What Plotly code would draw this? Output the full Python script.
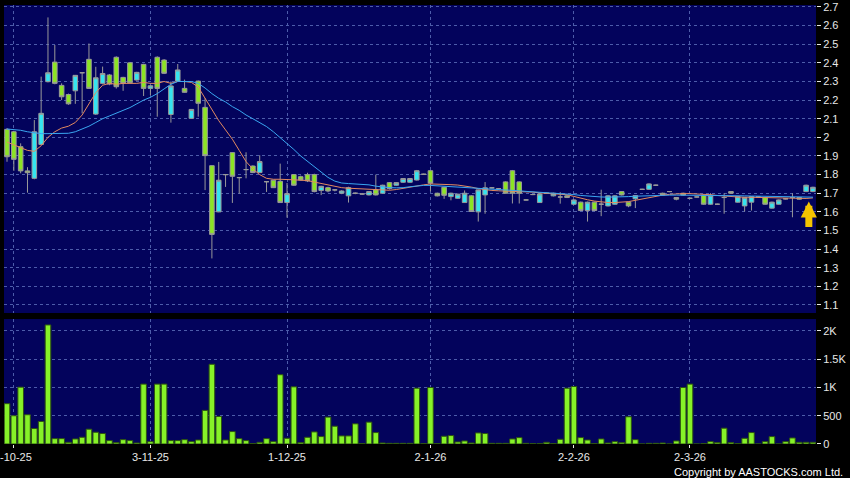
import plotly.graph_objects as go

# ---------------- data ----------------
open_ = [2.043, 2.03, 1.95, 1.82, 1.78, 1.962, 2.299, 2.404, 2.279, 2.23,
         2.25, 2.347, 2.419, 2.125, 2.29, 2.335, 2.43, 2.322, 2.40, 2.308,
         2.392, 2.263, 2.43, 2.415, 2.123, 2.302, 2.263, 2.102, 2.302, 2.161,
         1.848, 1.60, 1.80, 1.918, 1.784, 1.827, 1.846, 1.811, 1.762, 1.77,
         1.764, 1.65, 1.80, 1.789, 1.80, 1.80, 1.715, 1.73, 1.718, 1.70,
         1.686, 1.70, 1.696, 1.691, 1.718, 1.70, 1.757, 1.743, 1.759, 1.759,
         1.771, 1.802, 1.821, 1.70, 1.732, 1.682, 1.673, 1.65, 1.686, 1.60,
         1.691, 1.729, 1.725, 1.761, 1.821, 1.761, 1.664, 1.693, 1.65, 1.70,
         1.686, 1.68, 1.686, 1.641, 1.652, 1.607, 1.652, 1.641, 1.632, 1.641,
         1.709, 1.652, 1.67, 1.721, 1.721, 1.743, 1.70, 1.709, 1.677, 1.70,
         1.673, 1.68, 1.689, 1.641, 1.641, 1.677, 1.709, 1.652, 1.632, 1.652,
         1.68, 1.677, 1.62, 1.641, 1.67, 1.677, 1.677, 1.709, 1.709]

close = [1.896, 1.882, 1.82, 1.81, 2.03, 2.129, 2.347, 2.29, 2.218, 2.18,
         2.333, 2.347, 2.263, 2.32, 2.343, 2.286, 2.272, 2.29, 2.293, 2.349,
         2.263, 2.277, 2.263, 2.344, 2.276, 2.362, 2.242, 2.15, 2.183, 1.902,
         1.479, 1.77, 1.80, 1.791, 1.784, 1.827, 1.811, 1.87, 1.762, 1.73,
         1.65, 1.698, 1.743, 1.771, 1.766, 1.709, 1.737, 1.712, 1.718, 1.712,
         1.73, 1.70, 1.696, 1.709, 1.691, 1.743, 1.725, 1.757, 1.779, 1.779,
         1.821, 1.802, 1.754, 1.686, 1.689, 1.70, 1.695, 1.70, 1.602, 1.718,
         1.729, 1.729, 1.725, 1.70, 1.70, 1.70, 1.664, 1.693, 1.696, 1.70,
         1.70, 1.68, 1.677, 1.664, 1.607, 1.652, 1.607, 1.641, 1.686, 1.686,
         1.691, 1.632, 1.6875, 1.721, 1.75, 1.743, 1.691, 1.709, 1.668, 1.69,
         1.673, 1.68, 1.641, 1.689, 1.641, 1.677, 1.70, 1.682, 1.677, 1.682,
         1.68, 1.641, 1.652, 1.664, 1.67, 1.677, 1.668, 1.743, 1.732]

high = [2.05, 2.035, 1.968, 1.84, 2.093, 2.326, 2.644, 2.496, 2.29, 2.235,
        2.335, 2.35, 2.504, 2.379, 2.38, 2.34, 2.435, 2.325, 2.405, 2.352,
        2.395, 2.28, 2.435, 2.42, 2.30, 2.394, 2.31, 2.152, 2.305, 2.21,
        1.85, 1.868, 1.80, 1.92, 1.786, 1.92, 1.85, 1.904, 1.765, 1.772,
        1.859, 1.755, 1.802, 1.795, 1.81, 1.805, 1.74, 1.735, 1.722, 1.716,
        1.735, 1.704, 1.70, 1.712, 1.80, 1.746, 1.76, 1.76, 1.782, 1.782,
        1.825, 1.805, 1.825, 1.703, 1.735, 1.703, 1.698, 1.715, 1.69, 1.72,
        1.76, 1.732, 1.728, 1.764, 1.825, 1.764, 1.667, 1.696, 1.70, 1.703,
        1.703, 1.706, 1.69, 1.667, 1.655, 1.655, 1.655, 1.719, 1.69, 1.69,
        1.712, 1.655, 1.69, 1.724, 1.753, 1.746, 1.703, 1.712, 1.68, 1.703,
        1.676, 1.683, 1.692, 1.70, 1.644, 1.70, 1.712, 1.685, 1.68, 1.685,
        1.683, 1.68, 1.655, 1.667, 1.673, 1.70, 1.68, 1.746, 1.735]

low = [1.869, 1.82, 1.807, 1.703, 1.775, 1.96, 2.295, 2.285, 2.20, 2.175,
       2.18, 2.129, 2.26, 2.12, 2.285, 2.28, 2.262, 2.25, 2.29, 2.305,
       2.222, 2.227, 2.111, 2.34, 2.079, 2.30, 2.24, 2.10, 2.111, 1.717,
       1.35, 1.598, 1.734, 1.648, 1.698, 1.78, 1.808, 1.808, 1.707, 1.728,
       1.648, 1.569, 1.74, 1.768, 1.76, 1.705, 1.69, 1.705, 1.71, 1.695,
       1.65, 1.695, 1.692, 1.688, 1.688, 1.698, 1.72, 1.74, 1.755, 1.755,
       1.768, 1.80, 1.71, 1.683, 1.67, 1.662, 1.67, 1.648, 1.60, 1.548,
       1.59, 1.726, 1.722, 1.698, 1.645, 1.645, 1.661, 1.69, 1.648, 1.697,
       1.683, 1.644, 1.674, 1.638, 1.604, 1.548, 1.604, 1.577, 1.629, 1.638,
       1.688, 1.625, 1.62, 1.718, 1.718, 1.74, 1.688, 1.706, 1.662, 1.687,
       1.67, 1.677, 1.638, 1.638, 1.638, 1.59, 1.697, 1.649, 1.602, 1.607,
       1.677, 1.638, 1.617, 1.638, 1.667, 1.571, 1.665, 1.706, 1.706]

ma10 = [1.975, 1.958, 1.945, 1.93, 1.925, 1.955, 2.0, 2.03, 2.05, 2.06,
        2.08, 2.12, 2.18, 2.24, 2.28, 2.29, 2.285, 2.29, 2.29, 2.29,
        2.295, 2.29, 2.29, 2.30, 2.29, 2.30, 2.30, 2.295, 2.27, 2.21,
        2.15, 2.09, 2.04, 1.99, 1.93, 1.87, 1.83, 1.80, 1.78, 1.775,
        1.775, 1.775, 1.772, 1.77, 1.768, 1.76, 1.752, 1.742, 1.735, 1.73,
        1.727, 1.725, 1.722, 1.72, 1.717, 1.715, 1.716, 1.72, 1.727, 1.733,
        1.74, 1.745, 1.75, 1.75, 1.748, 1.746, 1.744, 1.74, 1.733, 1.725,
        1.718, 1.715, 1.713, 1.712, 1.712, 1.712, 1.71, 1.706, 1.702, 1.70,
        1.70, 1.697, 1.692, 1.683, 1.673, 1.665, 1.658, 1.653, 1.65, 1.65,
        1.652, 1.655, 1.662, 1.67, 1.678, 1.686, 1.69, 1.694, 1.697, 1.698,
        1.698, 1.697, 1.695, 1.692, 1.688, 1.684, 1.682, 1.68, 1.679, 1.678,
        1.677, 1.676, 1.675, 1.673, 1.671, 1.67, 1.67, 1.672, 1.675]

ma20 = [2.045, 2.043, 2.038, 2.03, 2.025, 2.02, 2.02, 2.02, 2.02, 2.022,
        2.03, 2.045, 2.06, 2.08, 2.10, 2.115, 2.13, 2.145, 2.16, 2.18,
        2.20, 2.215, 2.235, 2.26, 2.285, 2.30, 2.302, 2.30, 2.29, 2.265,
        2.235, 2.21, 2.19, 2.165, 2.145, 2.12, 2.10, 2.08, 2.058, 2.03,
        2.0, 1.97, 1.935, 1.90, 1.87, 1.84, 1.81, 1.785, 1.765, 1.755,
        1.752, 1.75, 1.748, 1.745, 1.738, 1.733, 1.73, 1.729, 1.73, 1.735,
        1.74, 1.742, 1.742, 1.74, 1.738, 1.736, 1.734, 1.732, 1.73, 1.727,
        1.725, 1.722, 1.72, 1.718, 1.716, 1.713, 1.71, 1.708, 1.706, 1.704,
        1.702, 1.70, 1.697, 1.693, 1.688, 1.684, 1.682, 1.68, 1.679, 1.679,
        1.68, 1.682, 1.684, 1.686, 1.688, 1.689, 1.69, 1.69, 1.69, 1.69,
        1.69, 1.69, 1.69, 1.69, 1.689, 1.689, 1.688, 1.687, 1.686, 1.685,
        1.684, 1.683, 1.682, 1.681, 1.68, 1.68, 1.679, 1.679, 1.679]

volume = [714, 500, 1006, 518, 274, 399, 2107, 95, 95, 30,
          89, 119, 262, 208, 185, 60, 24, 77, 60, 18,
          1060, 42, 1060, 1060, 60, 60, 77, 42, 71, 595,
          1411, 488, 71, 220, 95, 60, 6, 30, 95, 42,
          1226, 101, 1012, 24, 119, 214, 131, 476, 315, 143,
          143, 357, 6, 387, 202, 18, 12, 12, 12, 12,
          988, 6, 1000, 6, 137, 149, 36, 54, 18, 196,
          185, 12, 12, 12, 89, 113, 12, 6, 6, 30,
          6, 83, 988, 1018, 113, 71, 6, 89, 18, 42,
          24, 482, 77, 0, 12, 12, 18, 0, 54, 1000,
          1060, 0, 6, 42, 24, 280, 24, 6, 101, 202,
          0, 42, 131, 0, 42, 107, 30, 30, 30]

# first trading day of each month (index into the series) and their labels
tick_idx = [1, 21, 41, 62, 83, 100]
tick_labels = ["-10-25", "3-11-25", "1-12-25", "2-1-26", "2-2-26", "2-3-26"]

price_ticks = [1.1, 1.2, 1.3, 1.4, 1.5, 1.6, 1.7, 1.8, 1.9, 2.0,
               2.1, 2.2, 2.3, 2.4, 2.5, 2.6, 2.7]
price_tick_labels = ["1.1", "1.2", "1.3", "1.4", "1.5", "1.6", "1.7", "1.8",
                     "1.9", "2", "2.1", "2.2", "2.3", "2.4", "2.5", "2.6", "2.7"]
vol_ticks = [0, 500, 1000, 1500, 2000]
vol_tick_labels = ["0", "500", "1K", "1.5K", "2K"]

# ---------------- styles ----------------
NAVY = "#03035c"
GRID = "#4d5caa"
CYAN = "#35e4f0"
GREEN = "#8ce424"
OUTLINE = "#9a9a9a"
VOL = "#86f228"
VOL_EDGE = "#2e5410"
ORANGE = "#e38a60"
BLUE = "#3aa6f0"
TXT = "#e8e8e8"
FONT = "Liberation Sans, Arial, sans-serif"

n = len(close)
idx = list(range(n))
xr = [-0.44, n - 1 + 0.45]

fig = go.Figure()

fig.add_trace(go.Candlestick(
    x=idx, open=open_, high=high, low=low, close=close,
    increasing=dict(fillcolor=CYAN, line=dict(color=OUTLINE, width=1)),
    decreasing=dict(fillcolor=GREEN, line=dict(color=OUTLINE, width=1)),
    whiskerwidth=0, xaxis="x", yaxis="y", showlegend=False, hoverinfo="skip"))

fig.add_trace(go.Scatter(x=idx, y=ma10, mode="lines", xaxis="x", yaxis="y",
                         line=dict(color=ORANGE, width=1), hoverinfo="skip"))
fig.add_trace(go.Scatter(x=idx, y=ma20, mode="lines", xaxis="x", yaxis="y",
                         line=dict(color=BLUE, width=1), hoverinfo="skip"))

fig.add_trace(go.Bar(x=idx, y=volume, xaxis="x2", yaxis="y2", width=0.82,
                     marker=dict(color=VOL, line=dict(color=VOL_EDGE, width=1)),
                     hoverinfo="skip"))

# latest-price arrow under the last candles
arrow_x = n - 1.6
arrow_tip = min(low[-2:]) - 0.05
fig.add_annotation(x=arrow_x, y=arrow_tip, ax=arrow_x, ay=arrow_tip - 0.145,
                   xref="x", yref="y", axref="x", ayref="y", text="",
                   showarrow=True, arrowhead=2, arrowsize=0.46, arrowwidth=7,
                   arrowcolor="#f5c400")

# first month label sits against the left edge of the chart (cut-off date)
fig.add_annotation(text=tick_labels[0], xref="paper", yref="paper", x=0, y=0,
                   xanchor="left", yanchor="middle", xshift=-6, yshift=-13,
                   showarrow=False, font=dict(family=FONT, size=11, color=TXT))

fig.add_annotation(text="Copyright by AASTOCKS.com Ltd.", xref="paper", yref="paper",
                   x=1, y=0, xanchor="right", yanchor="middle", xshift=29, yshift=-28,
                   showarrow=False, font=dict(family=FONT, size=11, color="#ffffff"))

axis_common = dict(showgrid=True, gridcolor=GRID, griddash="3px,3px", gridwidth=1,
                   zeroline=False, showline=False, fixedrange=True, automargin=False)

fig.update_layout(
    width=850, height=478,
    margin=dict(l=4, r=34, t=5, b=34, autoexpand=False),
    paper_bgcolor="#000000", plot_bgcolor=NAVY,
    showlegend=False, hovermode=False, boxgap=0.33, boxgroupgap=0,
    font=dict(family=FONT, size=11, color=TXT),
    xaxis=dict(domain=[0, 1], range=xr, anchor="y", tickvals=tick_idx,
               showticklabels=False, ticks="", rangeslider=dict(visible=False),
               **axis_common),
    xaxis2=dict(domain=[0, 1], range=xr, anchor="y2", matches="x",
                tickvals=tick_idx, ticktext=[""] + tick_labels[1:], ticks="outside",
                ticklen=3, tickcolor=TXT,
                tickfont=dict(family=FONT, size=11, color=TXT), **axis_common),
    yaxis=dict(domain=[0.2984, 1], range=[1.057, 2.7107], side="right",
               tickvals=price_ticks, ticktext=price_tick_labels,
               ticks="outside", ticklen=4, tickcolor=TXT,
               tickfont=dict(family=FONT, size=11, color=TXT), **axis_common),
    yaxis2=dict(domain=[0, 0.2847], range=[0, 2212], side="right",
                tickvals=vol_ticks, ticktext=vol_tick_labels,
                ticks="outside", ticklen=4, tickcolor=TXT,
                tickfont=dict(family=FONT, size=11, color=TXT), **axis_common),
)

fig.write_html("out.html",
               config={"displayModeBar": False, "staticPlot": True},
               post_script="document.body.style.margin='0px';"
                           "document.body.style.background='#000000';")
